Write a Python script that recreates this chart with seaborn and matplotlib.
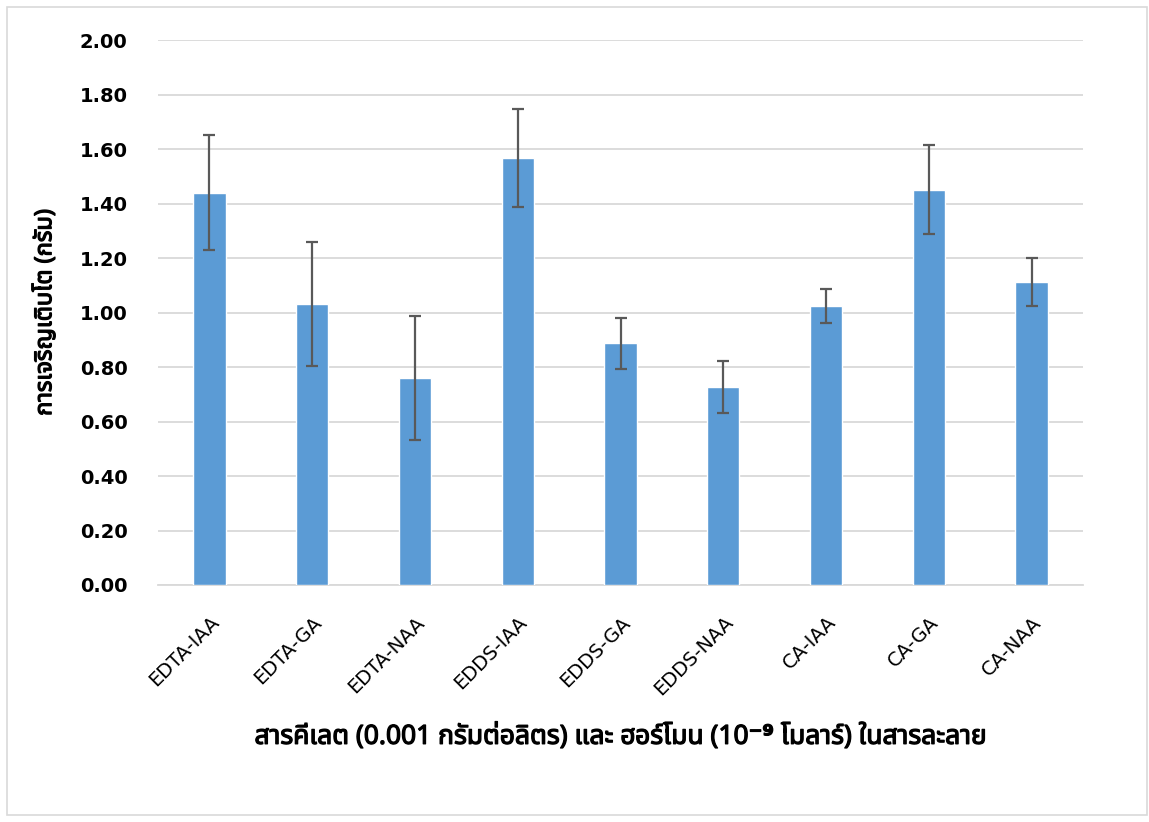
import matplotlib
matplotlib.use("Agg")
import matplotlib.pyplot as plt
from matplotlib import font_manager
from matplotlib.ft2font import FT2Font
from matplotlib.patches import Rectangle
import matplotlib.patheffects as pe
import seaborn as sns
import pandas as pd

categories = ["EDTA-IAA", "EDTA-GA", "EDTA-NAA", "EDDS-IAA", "EDDS-GA",
              "EDDS-NAA", "CA-IAA", "CA-GA", "CA-NAA"]
growth = [1.44, 1.03, 0.76, 1.566, 0.887, 0.727, 1.024, 1.451, 1.111]
errors = [0.21, 0.227, 0.228, 0.18, 0.094, 0.094, 0.064, 0.163, 0.088]
y_ticks = [0.0, 0.2, 0.4, 0.6, 0.8, 1.0, 1.2, 1.4, 1.6, 1.8, 2.0]
x_title = "สารคีเลต (0.001 กรัมต่อลิตร) และ ฮอร์โมน (10⁻⁹ โมลาร์) ในสารละลาย"
y_title = "การเจริญเติบโต (กรัม)"


def find_thai_family():
    prefs = []
    for f in font_manager.fontManager.ttflist:
        try:
            cm = FT2Font(f.fname).get_charmap()
        except Exception:
            continue
        if 0x0E01 in cm and 0x0E23 in cm:
            prefs.append(f.name)
    for want in ["Noto Sans Thai", "Noto Sans Thai UI", "Tahoma", "Leelawadee UI",
                 "Loma", "Garuda", "Sarabun", "Kinnari"]:
        if want in prefs:
            return want
    return prefs[0] if prefs else None


thai = find_thai_family()
sns.set_theme(style="white")
families = ([thai] if thai else []) + ["DejaVu Sans"]
plt.rcParams["font.family"] = families

df = pd.DataFrame({"cat": categories, "val": growth, "err": errors})

fig = plt.figure(figsize=(11.49, 8.22), dpi=100)
ax = fig.add_axes([158 / 1149, 1 - 585 / 822, 925 / 1149, 545 / 822])

sns.barplot(data=df, x="cat", y="val", color="#5B9BD5", saturation=1,
            width=0.315, errorbar=None, ax=ax, zorder=3)
ax.errorbar(range(len(categories)), df["val"], yerr=df["err"], fmt="none",
            ecolor="#595959", elinewidth=1.6, capsize=4.5, capthick=1.6, zorder=4)

ax.set_ylim(0, 2.0)
ax.set_xlim(-0.5, len(categories) - 0.5)
ax.set_yticks(y_ticks)
ax.set_yticklabels([f"{v:.2f}" for v in y_ticks], fontsize=14, fontweight="bold",
                   color="#000000", family=["DejaVu Sans"])
ax.set_xticks(range(len(categories)))
ax.set_xticklabels(categories, rotation=45, ha="right", rotation_mode="anchor",
                   fontsize=14, color="#000000", family=["DejaVu Sans"])
ax.tick_params(axis="y", length=0, pad=22)
ax.tick_params(axis="x", length=0, pad=20)

ax.yaxis.grid(True, color="#D9D9D9", linewidth=1.3, zorder=0)
ax.set_axisbelow(True)
for s in ["top", "right", "left"]:
    ax.spines[s].set_visible(False)
ax.spines["bottom"].set_color("#D9D9D9")
ax.spines["bottom"].set_linewidth(1.3)

bold = [pe.withStroke(linewidth=0.9, foreground="#000000")]
xl = ax.set_xlabel(x_title, fontsize=19, fontweight="bold", labelpad=17,
                   family=families, color="#000000")
yl = ax.set_ylabel(y_title, fontsize=17, fontweight="bold", labelpad=16,
                   family=families, color="#000000")
xl.set_path_effects(bold)
yl.set_path_effects(bold)

fig.patches.append(Rectangle((7 / 1149, 1 - 815 / 822), 1140 / 1149, 808 / 822,
                             transform=fig.transFigure, fill=False,
                             edgecolor="#D9D9D9", linewidth=1.2))

fig.savefig("out.png", dpi=100)
